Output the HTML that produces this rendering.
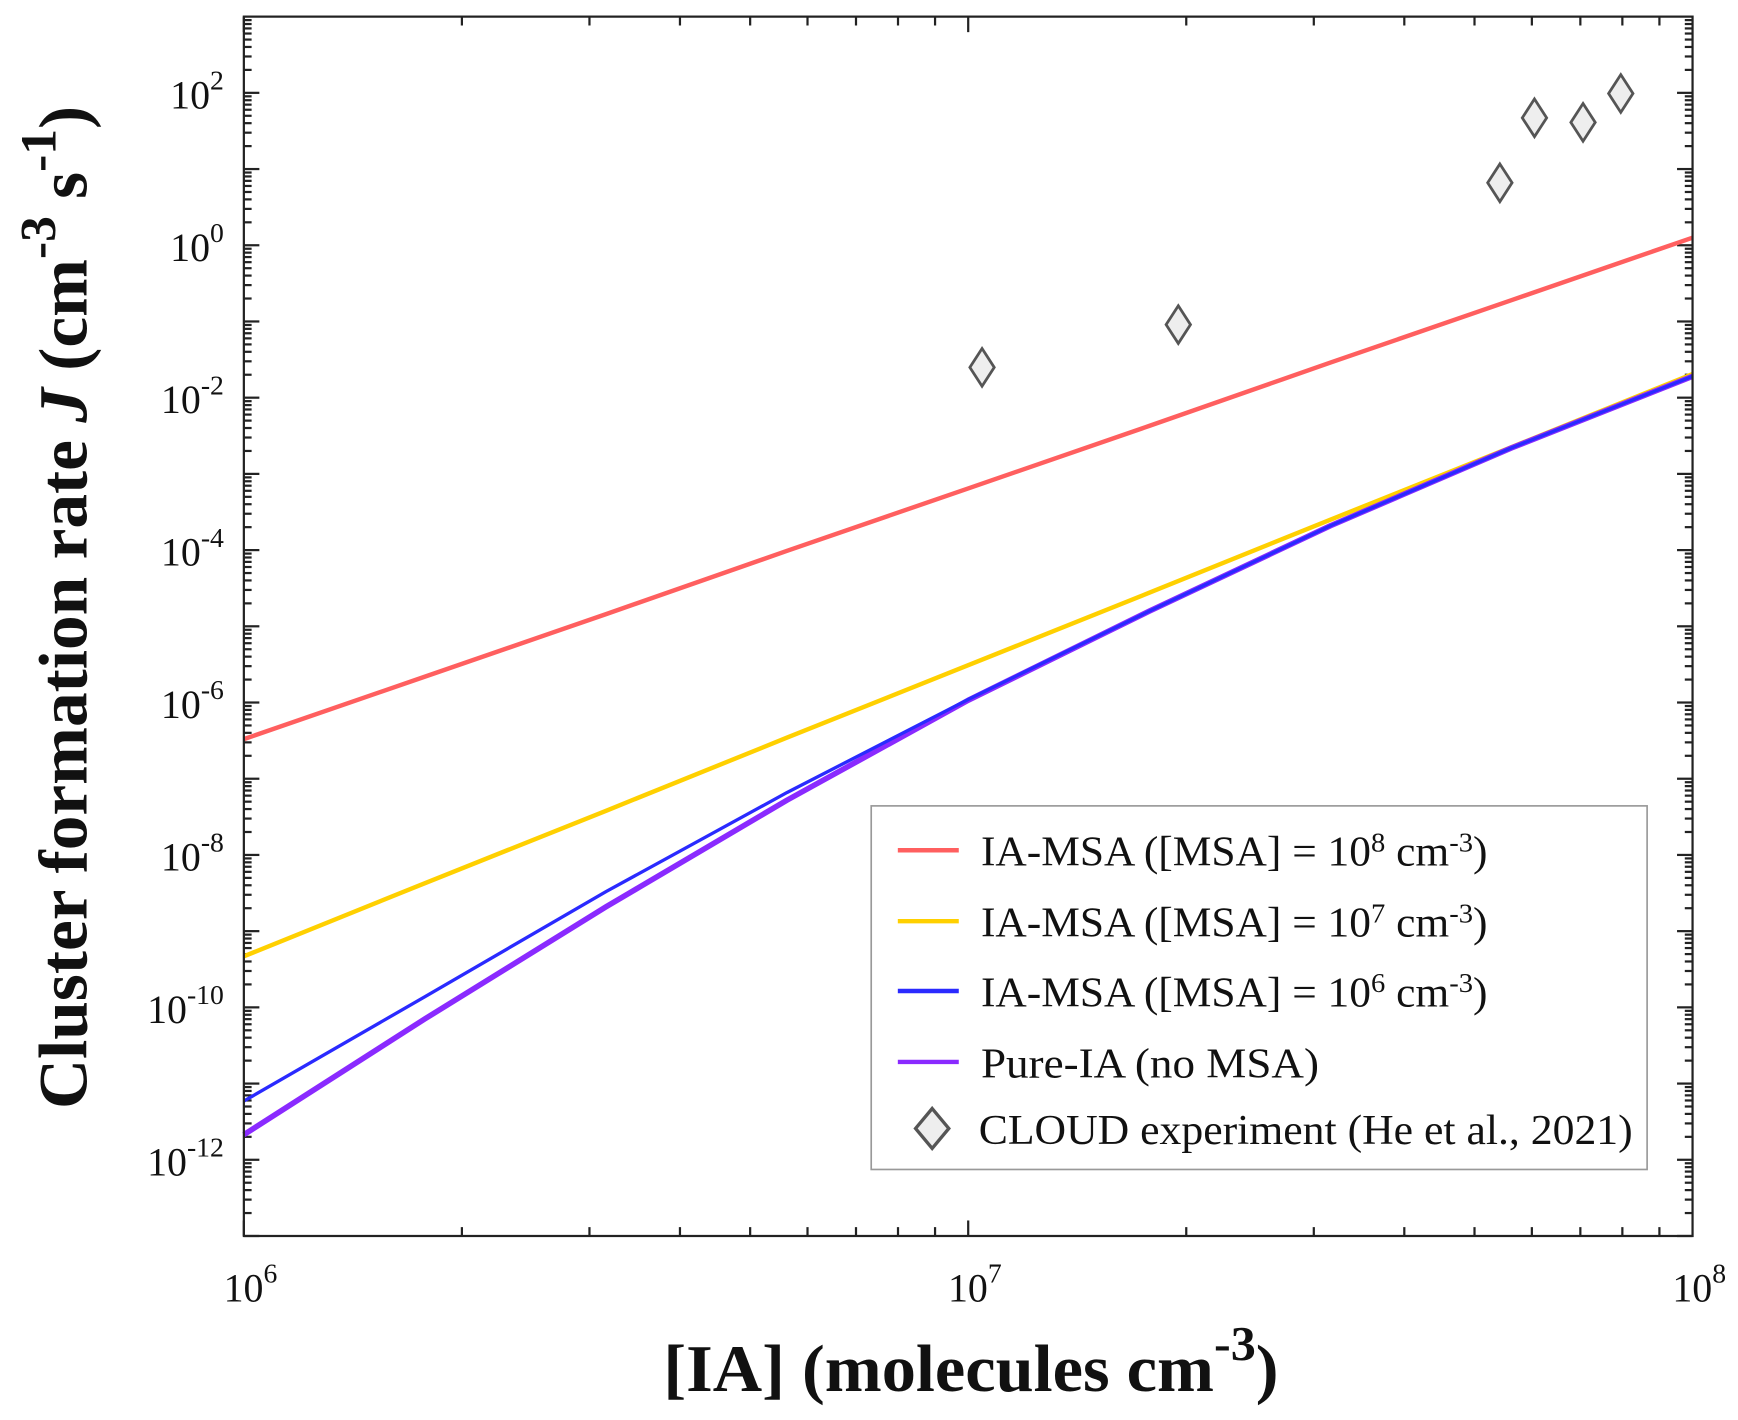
<!DOCTYPE html>
<html><head><meta charset="utf-8"><style>
html,body{margin:0;padding:0;background:#fff}
svg{display:block}
text{font-family:"Liberation Serif",serif;fill:#111}
</style></head><body>
<svg id="chart" width="1738" height="1420" viewBox="0 0 1568 1281" preserveAspectRatio="none" xmlns="http://www.w3.org/2000/svg">
<g id="ticks"></g>
<g id="series"></g>
<rect x="220" y="15" width="1307" height="1100" fill="none" stroke="#222" stroke-width="2"/>
<g id="ylabels"></g>
<g id="xlabels"></g>
<text transform="translate(78,548) rotate(-90)" text-anchor="middle" font-size="62" font-weight="bold" fill="#333" textLength="905" lengthAdjust="spacingAndGlyphs">Cluster formation rate <tspan font-style="italic">J</tspan> (cm<tspan dy="-28" font-size="46">-3</tspan><tspan dy="28"> s</tspan><tspan dy="-28" font-size="46">-1</tspan><tspan dy="28">)</tspan></text>
<text x="876" y="1255" text-anchor="middle" font-size="60" font-weight="bold" fill="#333" textLength="555" lengthAdjust="spacingAndGlyphs">[IA] (molecules cm<tspan dy="-28" font-size="44">-3</tspan><tspan dy="28">)</tspan></text>
<g>
<rect x="786" y="727" width="700" height="328" fill="#fff" stroke="#999" stroke-width="1.5"/>
<g><line x1="810" y1="767" x2="865" y2="767" stroke="#ff5f5f" stroke-width="4"/><text x="885" y="781" font-size="38" textLength="457" lengthAdjust="spacingAndGlyphs">IA-MSA ([MSA] = 10<tspan dy="-13" font-size="25">8</tspan><tspan dy="13"> cm</tspan><tspan dy="-13" font-size="25">-3</tspan><tspan dy="13">)</tspan></text></g>
<g><line x1="810" y1="831" x2="865" y2="831" stroke="#ffd000" stroke-width="4"/><text x="885" y="845" font-size="38" textLength="457" lengthAdjust="spacingAndGlyphs">IA-MSA ([MSA] = 10<tspan dy="-13" font-size="25">7</tspan><tspan dy="13"> cm</tspan><tspan dy="-13" font-size="25">-3</tspan><tspan dy="13">)</tspan></text></g>
<g><line x1="810" y1="894" x2="865" y2="894" stroke="#2a2aff" stroke-width="4"/><text x="885" y="908" font-size="38" textLength="457" lengthAdjust="spacingAndGlyphs">IA-MSA ([MSA] = 10<tspan dy="-13" font-size="25">6</tspan><tspan dy="13"> cm</tspan><tspan dy="-13" font-size="25">-3</tspan><tspan dy="13">)</tspan></text></g>
<g><line x1="810" y1="958" x2="865" y2="958" stroke="#8a2aff" stroke-width="4"/><text x="885" y="972" font-size="38" textLength="305" lengthAdjust="spacingAndGlyphs">Pure-IA  (no MSA)</text></g>
<g><polygon points="841,1000 856,1018 841,1036 826,1018" fill="#eee" stroke="#555" stroke-width="3"/><text x="883" y="1032" font-size="38" textLength="590" lengthAdjust="spacingAndGlyphs">CLOUD experiment (He et al., 2021)</text></g>
</g>
</svg>
<script>
const xLogs = [6, 6.25, 6.5, 6.75, 7, 7.25, 7.5, 7.75, 8];
const redLogJ = [-6.48, -5.66, -4.84, -4.01, -3.19, -2.37, -1.54, -0.72, 0.10];
const yellowLogJ = [-9.33, -8.37, -7.42, -6.46, -5.51, -4.56, -3.60, -2.65, -1.69];
const blueLogJ = [-11.23, -9.86, -8.48, -7.18, -5.96, -4.80, -3.68, -2.66, -1.72];
const purpleLogJ = [-11.67, -10.15, -8.68, -7.28, -5.97, -4.80, -3.68, -2.66, -1.72];
const cloudX = [1.045e7, 1.95e7, 5.42e7, 6.05e7, 7.06e7, 7.96e7];
const cloudJ = [0.025, 0.091, 6.6, 47, 41, 98];
const yTickExps = [-12, -10, -8, -6, -4, -2, 0, 2];
const xTickExps = [6, 7, 8];

const NS = 'http://www.w3.org/2000/svg';
const L = 220, R = 1527, T = 15, B = 1115;
const xMin = 6, xMax = 8, yMin = -13, yMax = 3;
const sx = lx => L + (lx - xMin) / (xMax - xMin) * (R - L);
const sy = ly => B - (ly - yMin) / (yMax - yMin) * (B - T);
function mk(tag, attrs, parent) {
  const e = document.createElementNS(NS, tag);
  for (const k in attrs) e.setAttribute(k, attrs[k]);
  parent.appendChild(e);
  return e;
}
const ticks = document.getElementById('ticks');
for (let d = yMin; d < yMax; d++) {
  for (let m = 1; m < 10; m++) {
    const y = sy(d + Math.log10(m));
    const len = m === 1 ? 14 : 7;
    const t1 = mk('line', {x1: L, y1: y, x2: L + len, y2: y, stroke: '#222', 'stroke-width': 2}, ticks);
    
    
    const t2 = mk('line', {x1: R, y1: y, x2: R - len, y2: y, stroke: '#222', 'stroke-width': 2}, ticks);
    
    
  }
}
for (let d = xMin; d < xMax; d++) {
  for (let m = 1; m < 10; m++) {
    const x = sx(d + Math.log10(m));
    const len = m === 1 ? 14 : 8;
    const t1 = mk('line', {x1: x, y1: B, x2: x, y2: B - len, stroke: '#222', 'stroke-width': 2}, ticks);
    
    
    const t2 = mk('line', {x1: x, y1: T, x2: x, y2: T + len, stroke: '#222', 'stroke-width': 2}, ticks);
    
    
  }
}
const yl = document.getElementById('ylabels');
yTickExps.forEach(e => {
  const t = mk('text', {x: 202, y: sy(e) + 14, 'text-anchor': 'end', 'font-size': 36}, yl);
  
  
  t.innerHTML = '10<tspan dy="-17" font-size="25">' + e + '</tspan>';
});
const xl = document.getElementById('xlabels');
xTickExps.forEach(e => {
  const t = mk('text', {x: sx(e) + 6, y: 1174, 'text-anchor': 'middle', 'font-size': 36}, xl);
  
  
  t.innerHTML = '10<tspan dy="-17" font-size="25">' + e + '</tspan>';
});
const ser = document.getElementById('series');
function line(vals, color, w, name) {
  const d = vals.map((v, i) => (i ? 'L' : 'M') + sx(xLogs[i]).toFixed(1) + ',' + sy(v).toFixed(1)).join(' ');
  const p = mk('path', {d: d, fill: 'none', stroke: color, 'stroke-width': w, 'stroke-linejoin': 'round'}, ser);
  
  
}
line(redLogJ, '#ff5f5f', 4, 'line-msa-1e8');
line(yellowLogJ, '#ffd000', 4, 'line-msa-1e7');
line(purpleLogJ, '#8a2aff', 5, 'line-pure-ia');
line(blueLogJ, '#2a2aff', 3, 'line-msa-1e6');
cloudX.forEach((xv, i) => {
  const x = sx(Math.log10(xv)), y = sy(Math.log10(cloudJ[i]));
  const p = mk('polygon', {points: `${x},${y-17} ${x+11},${y} ${x},${y+17} ${x-11},${y}`, fill: '#eee', stroke: '#555', 'stroke-width': 2.5}, ser);
  
  
});
</script>
</body></html>
